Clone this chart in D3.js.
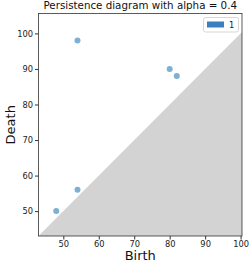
<!DOCTYPE html>
<html><head><meta charset="utf-8">
<script src="https://cdn.jsdelivr.net/npm/d3@7"></script>
<style>body{margin:0;background:#fff}svg{display:block}text{font-family:"DejaVu Sans",sans-serif}</style>
</head><body>
<script>
const births = [48, 54, 54, 80, 82];
const deaths = [50, 56, 98, 90, 88];
const xTicks = [50, 60, 70, 80, 90, 100];
const yTicks = [50, 60, 70, 80, 90, 100];
const legendLabels = ["1"];

const W = 249, H = 264;
const m = {l: 38.5, r: 7, t: 13.5, b: 28};
const svg = d3.select("body").append("svg").attr("width", W).attr("height", H);
const x = d3.scaleLinear().domain([43, 100.4]).range([m.l, W - m.r]);
const y = d3.scaleLinear().domain([43, 105.6]).range([H - m.b, m.t]);

const lo = 43, hi = 100.4;
svg.append("clipPath").attr("id","c").append("rect")
  .attr("x", m.l).attr("y", m.t).attr("width", W-m.l-m.r).attr("height", H-m.t-m.b);
svg.append("path").attr("clip-path","url(#c)")
  .attr("d", `M${x(lo)},${y(lo)}L${x(hi)},${y(hi)}L${x(hi)},${y(lo)}Z`)
  .attr("fill", "#d3d3d3");

svg.append("g").selectAll("circle").data(births).join("circle")
  .attr("cx", (d) => x(d)).attr("cy", (d, i) => y(deaths[i])).attr("r", 3)
  .attr("fill", "#1f77b4").attr("fill-opacity", 0.58);

const xa = svg.append("g").attr("transform", `translate(0,${H - m.b})`)
  .call(d3.axisBottom(x).tickValues(xTicks).tickSize(3.5).tickPadding(2));
const ya = svg.append("g").attr("transform", `translate(${m.l},0)`)
  .call(d3.axisLeft(y).tickValues(yTicks).tickSize(3.5).tickPadding(2));
[xa, ya].forEach(a => { a.select(".domain").remove(); a.selectAll("text").attr("font-size", 8.3).attr("fill","#222"); a.selectAll("line").attr("stroke","#333"); });

svg.append("rect").attr("x", m.l).attr("y", m.t).attr("width", W-m.l-m.r).attr("height", H-m.t-m.b)
  .attr("fill","none").attr("stroke","#333").attr("stroke-width",0.8);

// legend
const lg = svg.append("g");
lg.append("rect").attr("x", 203.5).attr("y", 17.5).attr("width", 35).attr("height", 14.5)
  .attr("rx", 2).attr("fill", "#fff").attr("fill-opacity", 0.85).attr("stroke", "#ccc").attr("stroke-width", 0.8);
lg.append("rect").attr("x", 207).attr("y", 21.5).attr("width", 17).attr("height", 6).attr("fill", "#3a80c0");
lg.append("text").attr("x", 229).attr("y", 28).attr("font-size", 8.3).attr("fill","#222").text(legendLabels[0]);

svg.append("text").attr("x", (m.l + W - m.r)/2).attr("y", 9).attr("text-anchor","middle")
  .attr("font-size", 10.3).attr("fill","#111").text("Persistence diagram with alpha = 0.4");
svg.append("text").attr("x", (m.l + W - m.r)/2).attr("y", 260).attr("text-anchor","middle")
  .attr("font-size", 13).attr("fill","#111").text("Birth");
svg.append("text").attr("transform", `translate(15,${(m.t + H - m.b)/2}) rotate(-90)`).attr("text-anchor","middle")
  .attr("font-size", 13).attr("fill","#111").text("Death");
</script>
</body></html>
